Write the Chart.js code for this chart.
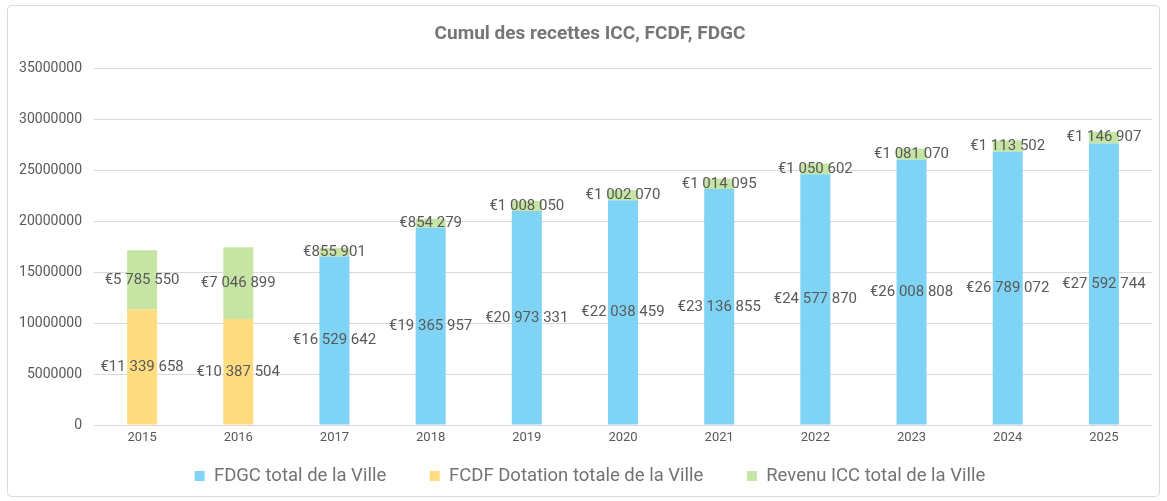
<!DOCTYPE html>
<html>
<head>
<meta charset="utf-8">
<script src="https://cdn.jsdelivr.net/npm/chart.js@4/dist/chart.umd.min.js"></script>
<style>
  html, body { margin: 0; padding: 0; background: #fff; }
  #wrap { position: relative; width: 1167px; height: 501px; }
</style>
</head>
<body>
<div id="wrap"><canvas id="chart"></canvas></div>
<script>
const years = ["2015", "2016", "2017", "2018", "2019", "2020", "2021", "2022", "2023", "2024", "2025"];
const fdgc = [null, null, 16529642, 19365957, 20973331, 22038459, 23136855, 24577870, 26008808, 26789072, 27592744];
const fcdf = [11339658, 10387504, null, null, null, null, null, null, null, null, null];
const icc = [5785550, 7046899, 855901, 854279, 1008050, 1002070, 1014095, 1050602, 1081070, 1113502, 1146907];
const yTicks = [0, 5000000, 10000000, 15000000, 20000000, 25000000, 30000000, 35000000];

const FONT = "Roboto";
const GREY = "#595959";

function euro(v) {
  return "€" + String(v).replace(/\B(?=(\d{3})+(?!\d))/g, " ");
}

// rounded frame around the chart
const frame = {
  id: "frame",
  afterLayout(chart) {
    // title and legend are centred a little right of the canvas middle
    chart.titleBlock.left = 28;
    chart.legend.left = 28;
  },
  beforeDraw(chart) {
    const ctx = chart.ctx;
    ctx.save();
    ctx.fillStyle = "#fff";
    ctx.fillRect(0, 0, chart.width, chart.height);
    ctx.strokeStyle = "#d9d9d9";
    ctx.lineWidth = 1;
    ctx.beginPath();
    ctx.roundRect(7.5, 5.5, chart.width - 15, chart.height - 10, 4);
    ctx.stroke();
    ctx.restore();
  }
};

// value labels centered in each segment
const valueLabels = {
  id: "valueLabels",
  afterDatasetsDraw(chart) {
    const ctx = chart.ctx;
    ctx.save();
    ctx.font = "15px " + FONT;
    ctx.fillStyle = GREY;
    ctx.textAlign = "center";
    ctx.textBaseline = "middle";
    chart.data.datasets.forEach((ds, i) => {
      const meta = chart.getDatasetMeta(i);
      meta.data.forEach((bar, j) => {
        const v = ds.data[j];
        if (v == null) return;
        const p = bar.getProps(["x", "y", "base"], true);
        ctx.fillText(euro(v), p.x, (p.y + p.base) / 2);
      });
    });
    ctx.restore();
  }
};

new Chart(document.getElementById("chart"), {
  type: "bar",
  data: {
    labels: years,
    datasets: [
      { label: "FDGC total de la Ville", data: fdgc, backgroundColor: "#7fd4f6" },
      { label: "FCDF Dotation totale de la Ville", data: fcdf, backgroundColor: "#ffdc80" },
      { label: "Revenu ICC total de la Ville", data: icc, backgroundColor: "#c6e5a5" }
    ]
  },
  options: {
    responsive: true,
    maintainAspectRatio: false,
    animation: false,
    categoryPercentage: 1,
    barPercentage: 0.312,
    layout: { padding: { left: 0, right: 15, top: 0, bottom: 5.8 } },
    plugins: {
      title: {
        display: true,
        text: "Cumul des recettes ICC, FCDF, FDGC",
        color: "#767676",
        font: { family: FONT, size: 19, weight: "bold" },
        padding: { top: 22.6, bottom: 22.6 }
      },
      legend: {
        position: "bottom",
        labels: {
          color: "#737373",
          font: { family: FONT, size: 18.5 },
          boxWidth: 10,
          boxHeight: 10,
          padding: 16,
          generateLabels(chart) {
            const items = Chart.defaults.plugins.legend.labels.generateLabels(chart);
            items.forEach((it, k) => {
              it.lineWidth = 0;
              if (k < items.length - 1) it.text = it.text + "      ";
            });
            return items;
          }
        }
      },
      tooltip: { enabled: false }
    },
    scales: {
      x: {
        stacked: true,
        grid: { display: false, drawTicks: false },
        border: { display: false },
        ticks: { color: GREY, font: { family: FONT, size: 13 }, padding: 5 }
      },
      y: {
        stacked: true,
        min: 0,
        max: 35000000,
        afterFit(scale) { scale.width = 94; },
        afterBuildTicks(scale) { scale.ticks = yTicks.map(v => ({ value: v })); },
        grid: { color: "#d9d9d9", drawTicks: false },
        border: { display: false },
        ticks: {
          color: GREY,
          font: { family: FONT, size: 14 },
          padding: 12,
          callback: v => String(v)
        }
      }
    }
  },
  plugins: [frame, valueLabels]
});
</script>
</body>
</html>
